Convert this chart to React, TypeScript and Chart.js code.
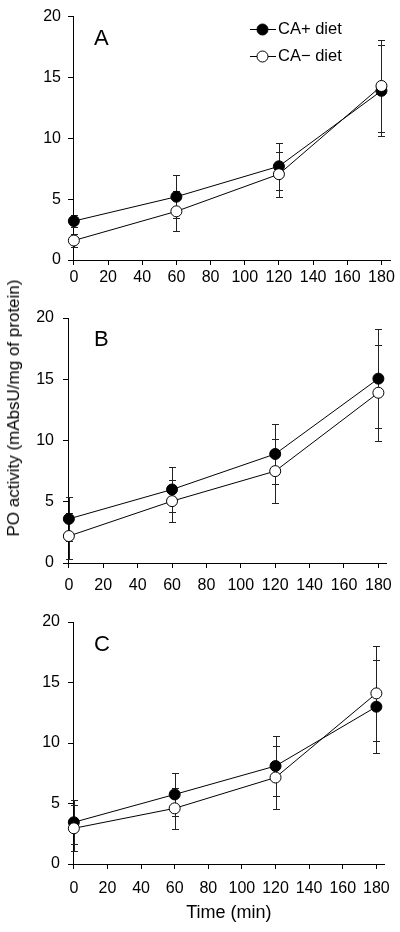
import React, { useEffect, useRef } from 'react';
import { Chart, registerables } from 'chart.js';

Chart.register(...registerables);

const FONT = '"Liberation Sans", Arial, Helvetica, sans-serif';

// ---- data ----
const timeMin = [0, 60, 120, 180];
const xTickValues = [0, 20, 40, 60, 80, 100, 120, 140, 160, 180];
const yTickValues = [0, 5, 10, 15, 20];
const seriesNames = ['CA+ diet', 'CA\u2212 diet'];
const panelLetters = ['A', 'B', 'C'];
const yAxisTitle = 'PO activity (mAbsU/mg of protein)';
const xAxisTitle = 'Time (min)';

const caPlusA = [3.2, 5.2, 7.7, 13.9];
const caPlusErrA = [0.5, 1.75, 1.95, 3.75];
const caMinusA = [1.6, 4.0, 7.05, 14.3];
const caMinusErrA = [0.5, 1.64, 1.86, 3.75];

const caPlusB = [3.6, 6.0, 8.9, 15.05];
const caPlusErrB = [1.8, 1.85, 2.47, 4.05];
const caMinusB = [2.2, 5.05, 7.5, 13.9];
const caMinusErrB = [1.9, 1.7, 2.64, 3.9];

const caPlusC = [3.45, 5.75, 8.1, 13.0];
const caPlusErrC = [1.8, 1.8, 2.45, 3.85];
const caMinusC = [2.95, 4.6, 7.15, 14.1];
const caMinusErrC = [1.9, 1.7, 2.6, 3.9];

// ---- layout (pixels) ----
const panels = [
  {
    letter: panelLetters[0], plus: caPlusA, plusErr: caPlusErrA, minus: caMinusA, minusErr: caMinusErrA,
    top: 0, height: 295, plotTop: 9, plotBottom: 260, plotLeft: 73,
    letterX: 94, letterY: 38.5, xLabelPad: 3, yLabelPad: 7, legend: true, xTitle: false,
  },
  {
    letter: panelLetters[1], plus: caPlusB, plusErr: caPlusErrB, minus: caMinusB, minusErr: caMinusErrB,
    top: 295, height: 305, plotTop: 318, plotBottom: 563, plotLeft: 68,
    letterX: 94, letterY: 340, xLabelPad: 8, yLabelPad: 9, legend: false, xTitle: false,
  },
  {
    letter: panelLetters[2], plus: caPlusC, plusErr: caPlusErrC, minus: caMinusC, minusErr: caMinusErrC,
    top: 600, height: 332, plotTop: 622, plotBottom: 864, plotLeft: 73,
    letterX: 94, letterY: 645, xLabelPad: 10, yLabelPad: 8, legend: false, xTitle: true,
  },
];

const errorBarPlugin = {
  id: 'errorBars',
  beforeDatasetsDraw(chart: any) {
    const { ctx, scales } = chart;
    const x = scales.x;
    const y = scales.y;
    ctx.save();
    ctx.strokeStyle = '#222';
    ctx.lineWidth = 1;
    chart.data.datasets.forEach((ds: any) => {
      const errs: number[] = ds.errors || [];
      ds.data.forEach((pt: any, i: number) => {
        const e = errs[i];
        if (!e) return;
        const px = Math.round(x.getPixelForValue(pt.x)) + 0.5;
        const t = Math.round(y.getPixelForValue(pt.y + e)) + 0.5;
        const b = Math.round(y.getPixelForValue(pt.y - e)) + 0.5;
        ctx.beginPath();
        ctx.moveTo(px, t);
        ctx.lineTo(px, b);
        ctx.moveTo(px - 3.5, t);
        ctx.lineTo(px + 3.5, t);
        ctx.moveTo(px - 3.5, b);
        ctx.lineTo(px + 3.5, b);
        ctx.stroke();
      });
    });
    ctx.restore();
  },
};

const panelTextPlugin = {
  id: 'panelText',
  afterDraw(chart: any, _args: any, opts: any) {
    const { ctx } = chart;
    ctx.save();
    ctx.fillStyle = '#000';
    ctx.font = `22px ${FONT}`;
    ctx.textAlign = 'left';
    ctx.textBaseline = 'middle';
    ctx.fillText(opts.letter, opts.letterX, opts.letterY);
    if (opts.legend) {
      const ys = [29, 56];
      const order = [1, 0];
      order.forEach((dsIndex, k) => {
        const ds = chart.data.datasets[dsIndex];
        const yy = ys[k] + 0.5;
        ctx.strokeStyle = '#000';
        ctx.lineWidth = 1;
        ctx.beginPath();
        ctx.moveTo(250, yy);
        ctx.lineTo(276, yy);
        ctx.stroke();
        ctx.beginPath();
        ctx.arc(262.5, yy, 5.5, 0, Math.PI * 2);
        ctx.fillStyle = ds.pointBackgroundColor;
        ctx.fill();
        ctx.stroke();
        ctx.fillStyle = '#000';
        ctx.font = `16.5px ${FONT}`;
        ctx.fillText(ds.label, 278, yy);
      });
    }
    ctx.restore();
  },
};

function Panel({ p }: { p: (typeof panels)[number] }) {
  const ref = useRef<HTMLCanvasElement | null>(null);
  useEffect(() => {
    if (!ref.current) return;
    const toPts = (vals: number[]) => timeMin.map((t, i) => ({ x: t, y: vals[i] }));
    const chart = new Chart(ref.current, {
      type: 'line',
      data: {
        datasets: [
          {
            label: seriesNames[1],
            data: toPts(p.minus),
            errors: p.minusErr,
            borderColor: '#000',
            borderWidth: 1,
            pointRadius: 5.5,
            pointBorderWidth: 1,
            pointBorderColor: '#000',
            pointBackgroundColor: '#fff',
            tension: 0,
            clip: false,
          } as any,
          {
            label: seriesNames[0],
            data: toPts(p.plus),
            errors: p.plusErr,
            borderColor: '#000',
            borderWidth: 1,
            pointRadius: 5.5,
            pointBorderWidth: 1,
            pointBorderColor: '#000',
            pointBackgroundColor: '#000',
            tension: 0,
            clip: false,
          } as any,
        ],
      },
      options: {
        animation: false,
        responsive: false,
        devicePixelRatio: 1,
        events: [],
        layout: { padding: { top: p.plotTop - p.top, right: 10, bottom: 0, left: 0 } },
        plugins: {
          legend: { display: false },
          tooltip: { enabled: false },
          title: { display: false },
          panelText: { letter: p.letter, letterX: p.letterX, letterY: p.letterY - p.top, legend: p.legend },
        } as any,
        scales: {
          x: {
            type: 'linear',
            min: -0.5,
            max: 185,
            afterBuildTicks: (s: any) => {
              s.ticks = xTickValues.map((v) => ({ value: v }));
            },
            afterFit: (s: any) => {
              s.height = p.top + p.height - p.plotBottom;
            },
            ticks: {
              color: '#000',
              font: { family: FONT, size: 16 },
              padding: p.xLabelPad,
              maxRotation: 0,
              autoSkip: false,
            },
            grid: { display: true, drawOnChartArea: false, drawTicks: true, tickLength: 5, color: '#000', lineWidth: 1 },
            border: { display: true, color: '#000', width: 1 },
            title: {
              display: p.xTitle,
              text: xAxisTitle,
              color: '#000',
              font: { family: FONT, size: 18 },
              padding: { top: 0, bottom: 8 },
            },
          },
          y: {
            type: 'linear',
            min: 0,
            max: 20,
            afterBuildTicks: (s: any) => {
              s.ticks = yTickValues.map((v) => ({ value: v }));
            },
            afterFit: (s: any) => {
              s.width = p.plotLeft;
            },
            ticks: {
              color: '#000',
              font: { family: FONT, size: 16 },
              padding: p.yLabelPad,
            },
            grid: { display: true, drawOnChartArea: false, drawTicks: true, tickLength: 5, color: '#000', lineWidth: 1 },
            border: { display: true, color: '#000', width: 1 },
          },
        },
      } as any,
      plugins: [errorBarPlugin, panelTextPlugin],
    });
    return () => chart.destroy();
  }, [p]);
  return (
    <canvas
      ref={ref}
      width={400}
      height={p.height}
      style={{ position: 'absolute', left: 0, top: p.top, width: 400, height: p.height, display: 'block' }}
    />
  );
}

export default function App() {
  return (
    <div style={{ position: 'fixed', left: 0, top: 0, width: 400, height: 932, background: '#fff', overflow: 'hidden' }}>
      {panels.map((p) => (
        <Panel key={p.letter} p={p} />
      ))}
      <div
        style={{
          position: 'absolute',
          left: 14,
          top: 407.5,
          transform: 'translate(-50%, -50%) rotate(-90deg)',
          whiteSpace: 'nowrap',
          font: `17px ${FONT}`,
          lineHeight: '20px',
          color: '#000',
        }}
      >
        {yAxisTitle}
      </div>
    </div>
  );
}
